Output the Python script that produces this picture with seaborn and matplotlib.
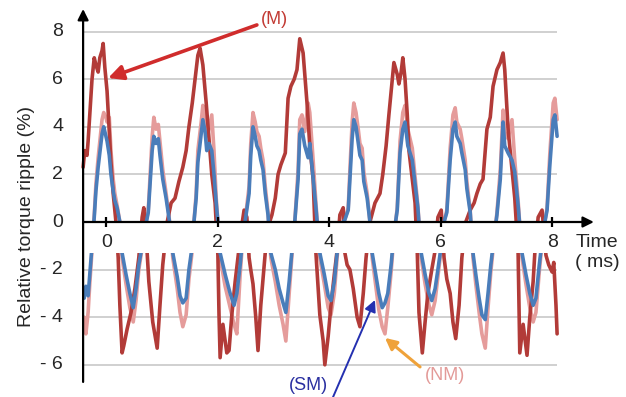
import matplotlib
matplotlib.use("Agg")
import matplotlib.pyplot as plt
import seaborn as sns
import pandas as pd

sns.set_theme(style="white")
plt.rcParams["font.family"] = ["Liberation Sans", "DejaVu Sans"]

# ---- data: relative torque ripple (%) versus time (ms) ----
# fast-ripple series (SM and NM share the same sampling instants)
t_fast = [-0.40, -0.37, -0.33, -0.30, -0.26, -0.22, -0.19, -0.15, -0.12, -0.08,
          -0.05, -0.01, 0.01, 0.05, 0.08, 0.12, 0.15, 0.19, 0.24, 0.28,
          0.35, 0.42, 0.48, 0.53, 0.58, 0.64, 0.69, 0.75, 0.78, 0.82,
          0.85, 0.89, 0.93, 0.96, 1.01, 1.07, 1.12, 1.16, 1.19, 1.27,
          1.32, 1.37, 1.43, 1.48, 1.54, 1.57, 1.61, 1.64, 1.70, 1.73,
          1.77, 1.80, 1.84, 1.89, 1.93, 1.97, 2.00, 2.04, 2.13, 2.22,
          2.29, 2.34, 2.40, 2.45, 2.50, 2.56, 2.59, 2.63, 2.67, 2.70,
          2.74, 2.77, 2.81, 2.85, 2.90, 2.95, 3.03, 3.10, 3.17, 3.22,
          3.28, 3.33, 3.38, 3.44, 3.47, 3.51, 3.56, 3.62, 3.65, 3.71,
          3.76, 3.83, 3.91, 3.98, 4.03, 4.09, 4.14, 4.19, 4.28, 4.34,
          4.37, 4.41, 4.44, 4.48, 4.52, 4.55, 4.59, 4.62, 4.68, 4.73,
          4.77, 4.84, 4.89, 4.95, 5.00, 5.05, 5.11, 5.16, 5.22, 5.27,
          5.32, 5.36, 5.41, 5.49, 5.54, 5.59, 5.65, 5.72, 5.79, 5.84,
          5.90, 5.95, 6.01, 6.06, 6.11, 6.17, 6.22, 6.26, 6.29, 6.35,
          6.38, 6.44, 6.47, 6.53, 6.58, 6.63, 6.69, 6.74, 6.80, 6.85,
          6.90, 6.96, 7.01, 7.07, 7.12, 7.15, 7.21, 7.28, 7.33, 7.39,
          7.46, 7.53, 7.60, 7.66, 7.71, 7.77, 7.82, 7.87, 7.91, 7.96,
          8.02, 8.05, 8.09]

sm_ripple = [-3.2, -2.7, -3.1, -2.2, -1.0, 0.2, 1.3, 2.3, 2.9, 3.7,
             4.0, 3.6, 3.4, 2.8, 2.0, 1.3, 0.9, 0.6, 0.0, -1.3,
             -2.2, -3.0, -3.6, -2.8, -1.8, -1.0, -0.3, 0.4, 1.5, 3.0,
             3.6, 3.3, 3.5, 2.8, 1.8, 1.0, 0.2, -0.5, -1.3, -2.3,
             -3.1, -3.4, -3.2, -2.0, -1.0, 0.0, 1.0, 2.5, 3.7, 4.3,
             3.8, 3.0, 3.3, 3.0, 2.0, 0.8, 0.0, -1.3, -2.2, -3.0,
             -3.5, -3.0, -1.8, -0.5, 0.2, 1.2, 2.8, 4.0, 3.6, 3.2,
             3.0, 2.6, 2.2, 1.2, 0.3, -1.3, -2.0, -2.8, -3.4, -3.8,
             -2.5, -1.2, 0.0, 1.8, 3.7, 3.9, 3.2, 2.7, 3.3, 1.8,
             0.6, -1.3, -2.2, -3.1, -3.3, -2.5, -1.3, -0.2, 0.1, 0.5,
             1.8, 3.5, 4.3, 4.0, 3.3, 2.8, 2.6, 1.7, 1.0, 0.0,
             -1.3, -2.3, -3.0, -3.6, -3.4, -3.0, -1.8, -0.5, 0.5, 2.9,
             3.9, 4.2, 3.2, 2.6, 1.6, 0.6, -1.3, -2.2, -3.0, -3.3,
             -2.8, -2.0, -1.0, 0.0, 0.4, 2.6, 3.9, 4.2, 3.6, 3.3,
             2.9, 2.2, 1.4, 0.4, -1.3, -2.2, -3.2, -3.9, -4.1, -3.0,
             -1.8, -0.6, 0.3, 1.8, 4.2, 3.2, 2.9, 2.6, 2.1, 0.7,
             -1.3, -2.2, -3.0, -3.5, -3.2, -1.8, -0.8, 0.0, 0.5, 2.4,
             4.3, 4.5, 3.6]

nm_ripple = [-4.0, -4.7, -3.8, -2.6, -1.2, 0.3, 1.6, 2.7, 3.4, 4.3,
             4.6, 4.4, 4.2, 4.4, 3.0, 1.8, 1.2, 0.7, 0.0, -1.5,
             -2.6, -3.6, -4.2, -3.3, -2.0, -1.1, -0.3, 0.5, 1.8, 3.6,
             4.4, 3.9, 4.1, 3.4, 2.2, 1.2, 0.3, -0.6, -1.5, -2.8,
             -3.8, -4.4, -3.9, -2.4, -1.2, 0.0, 1.2, 3.0, 4.2, 4.9,
             4.4, 3.6, 3.9, 4.5, 3.0, 1.0, 0.0, -1.5, -2.7, -3.6,
             -4.3, -4.7, -2.2, -0.6, 0.3, 1.5, 3.3, 4.6, 4.2, 3.8,
             3.6, 3.1, 2.6, 1.5, 0.4, -1.5, -2.5, -3.5, -4.3, -5.0,
             -3.0, -1.4, 0.0, 2.2, 4.3, 4.5, 3.8, 5.0, 4.6, 2.6,
             0.8, -1.5, -2.6, -3.6, -3.9, -3.0, -1.5, -0.2, 0.1, 0.6,
             2.2, 4.2, 5.0, 4.6, 3.9, 3.3, 3.1, 2.1, 1.2, 0.0,
             -1.5, -2.8, -3.7, -4.4, -4.7, -3.6, -2.1, -0.6, 0.6, 3.4,
             4.6, 4.9, 3.9, 3.1, 1.9, 0.7, -1.5, -2.6, -3.5, -3.9,
             -3.3, -2.3, -1.1, 0.0, 0.5, 3.1, 4.5, 4.8, 4.2, 3.9,
             3.5, 2.6, 1.7, 0.5, -1.5, -2.6, -3.8, -4.7, -5.3, -3.6,
             -2.1, -0.7, 0.4, 2.2, 4.7, 3.8, 3.5, 4.3, 2.6, 0.9,
             -1.5, -2.6, -3.6, -4.2, -3.8, -2.1, -0.9, 0.0, 0.6, 2.9,
             5.0, 5.2, 4.3]

# slower, larger ripple (M)
t_m = [-0.42, -0.39, -0.35, -0.33, -0.30, -0.26, -0.22, -0.19, -0.15, -0.12,
       -0.08, -0.06, -0.03, 0.01, 0.05, 0.08, 0.12, 0.17, 0.21, 0.24,
       0.28, 0.31, 0.37, 0.44, 0.51, 0.58, 0.64, 0.67, 0.71, 0.76,
       0.83, 0.91, 0.96, 1.01, 1.09, 1.16, 1.23, 1.30, 1.37, 1.43,
       1.48, 1.54, 1.57, 1.61, 1.64, 1.68, 1.73, 1.79, 1.84, 1.89,
       1.95, 2.00, 2.02, 2.04, 2.09, 2.16, 2.20, 2.25, 2.31, 2.36,
       2.42, 2.47, 2.52, 2.56, 2.59, 2.63, 2.68, 2.72, 2.77, 2.85,
       2.90, 2.97, 3.03, 3.08, 3.13, 3.21, 3.26, 3.31, 3.37, 3.42,
       3.47, 3.53, 3.60, 3.65, 3.71, 3.76, 3.83, 3.89, 3.92, 3.98,
       4.03, 4.09, 4.14, 4.19, 4.25, 4.28, 4.32, 4.37, 4.43, 4.50,
       4.55, 4.61, 4.66, 4.73, 4.82, 4.91, 4.96, 5.02, 5.07, 5.13,
       5.16, 5.22, 5.25, 5.29, 5.32, 5.36, 5.40, 5.43, 5.49, 5.54,
       5.58, 5.61, 5.67, 5.72, 5.77, 5.84, 5.90, 5.95, 6.01, 6.06,
       6.11, 6.17, 6.22, 6.27, 6.33, 6.38, 6.45, 6.53, 6.60, 6.65,
       6.71, 6.76, 6.83, 6.89, 6.94, 7.01, 7.07, 7.12, 7.15, 7.21,
       7.28, 7.33, 7.39, 7.42, 7.48, 7.55, 7.60, 7.66, 7.69, 7.75,
       7.82, 7.89, 7.94, 8.00, 8.03, 8.07, 8.09]

m_ripple = [2.3, 3.0, 2.8, 3.4, 4.5, 6.0, 6.9, 6.6, 6.3, 6.9,
            7.2, 7.5, 6.5, 5.5, 3.8, 2.5, 1.2, 0.0, -1.5, -3.5,
            -5.5, -5.2, -4.5, -3.8, -2.8, -1.5, 0.2, 0.6, -0.5, -2.5,
            -4.2, -5.3, -3.5, -1.8, 0.0, 0.8, 1.0, 1.7, 2.3, 3.0,
            4.0, 5.0, 5.6, 6.4, 7.0, 7.3, 6.6, 5.0, 3.5, 2.0,
            0.8, -1.4, -3.9, -5.7, -4.3, -5.5, -5.4, -3.9, -2.5, -1.5,
            -0.3, 0.5, 0.2, -1.5, -2.0, -2.6, -4.0, -5.4, -3.5, -1.3,
            -0.2, 0.3, 1.0, 2.0, 2.4, 2.9, 5.2, 5.7, 6.0, 6.4,
            7.7, 7.1, 5.0, 3.2, 1.8, -1.3, -3.9, -5.0, -6.0, -4.8,
            -3.5, -2.2, -1.2, 0.3, 0.6, -1.3, -1.8, -2.0, -2.8, -4.0,
            -4.4, -3.0, -1.5, 0.0, 0.8, 1.2, 2.0, 3.2, 4.5, 6.0,
            6.7, 6.2, 5.8, 6.3, 6.9, 6.0, 4.5, 3.0, 1.8, 0.8,
            -1.3, -3.8, -5.5, -4.2, -3.0, -2.0, -1.2, 0.2, 0.5, -1.5,
            -2.4, -3.0, -4.2, -4.9, -3.5, -1.5, 0.0, 0.5, 0.8, 1.2,
            1.6, 1.8, 3.9, 4.4, 5.7, 6.4, 6.7, 7.1, 6.4, 3.9,
            2.2, 1.0, -1.3, -5.5, -4.3, -5.6, -4.0, -2.5, -1.3, 0.2,
            0.5, -1.4, -1.8, -2.1, -1.7, -3.5, -4.7]

y_ticks = [8, 6, 4, 2, 0, -2, -4, -6]
y_tick_labels = ["8", "6", "4", "2", "0", "- 2", "- 4", "- 6"]
x_ticks = [0, 2, 4, 6, 8]
x_tick_labels = ["0", "2", "4", "6", "8"]
grid_levels = [8, 6, 4, 2, -2, -4, -6]

fast = pd.DataFrame({"time": t_fast, "SM": sm_ripple, "NM": nm_ripple})
slow = pd.DataFrame({"time": t_m, "M": m_ripple})

c_m = "#B23B38"
c_nm = "#E59C9B"
c_sm = "#4A7DBA"

fig = plt.figure(figsize=(6.26, 3.97), dpi=100)
ax = fig.add_axes([0, 0, 1, 1])
ax.set_xlim(-1.912, 9.327)
ax.set_ylim(-7.353, 9.328)

x_left, x_right = -0.42, 8.09

# horizontal grid
ax.hlines(grid_levels, x_left, x_right, color="#C4C4C4", lw=1.1, zorder=1)

# traces
sns.lineplot(data=fast, x="time", y="NM", color=c_nm, lw=2.6, estimator=None,
             sort=False, ax=ax, zorder=2)
sns.lineplot(data=slow, x="time", y="M", color=c_m, lw=2.6, estimator=None,
             sort=False, ax=ax, zorder=2.2)
sns.lineplot(data=fast, x="time", y="SM", color=c_sm, lw=2.6, estimator=None,
             sort=False, ax=ax, zorder=2.4)
ax.axis("off")

# white strip behind the time labels
ax.fill_between([x_left + 0.02, x_right + 0.1], -1.30, 0, color="white",
                lw=0, zorder=3)

# axes with arrow heads
ax.annotate("", xy=(x_left, 8.95), xytext=(x_left, -6.72),
            arrowprops=dict(arrowstyle="-|>", color="black", lw=1.6,
                            mutation_scale=16, shrinkA=0, shrinkB=0),
            zorder=5)
ax.annotate("", xy=(8.75, 0), xytext=(x_left, 0),
            arrowprops=dict(arrowstyle="-|>", color="black", lw=1.6,
                            mutation_scale=16, shrinkA=0, shrinkB=0),
            zorder=5)
ax.vlines(x_ticks, -0.2, 0.2, color="black", lw=1.6, zorder=5)

fs = 14
for xv, lab in zip(x_ticks, x_tick_labels):
    ax.text(xv, -0.88, lab, ha="center", va="center", fontsize=fs, zorder=6)
for yv, lab in zip(y_ticks, y_tick_labels):
    ax.text(-0.78, yv, lab, ha="right", va="center", fontsize=fs)

ax.text(-1.43, 0.25, "Relative torque ripple (%)", rotation=90,
        ha="center", va="center", fontsize=14)
ax.text(8.42, -0.88, "Time", ha="left", va="center", fontsize=fs)
ax.text(8.42, -1.70, "( ms)", ha="left", va="center", fontsize=fs)

# series call-outs
ax.text(3.01, 8.49, "(M)", color="#C23A33", ha="center", va="center", fontsize=13)
ax.annotate("", xy=(0.03, 6.05), xytext=(2.70, 8.28),
            arrowprops=dict(arrowstyle="-|>", color="#D02C2C", lw=2.6,
                            mutation_scale=22, shrinkA=0, shrinkB=0), zorder=6)

ax.text(3.63, -6.89, "(SM)", color="#2A2FA0", ha="center", va="center", fontsize=13)
ax.annotate("", xy=(4.82, -3.28), xytext=(4.05, -7.45),
            arrowprops=dict(arrowstyle="-|>", color="#2430B0", lw=1.4,
                            mutation_scale=17, shrinkA=0, shrinkB=0), zorder=6)

ax.text(6.08, -6.47, "(NM)", color="#E39A98", ha="center", va="center", fontsize=13)
ax.annotate("", xy=(5.00, -4.87), xytext=(5.63, -6.09),
            arrowprops=dict(arrowstyle="-|>", color="#EFA23A", lw=2.2,
                            mutation_scale=17, shrinkA=0, shrinkB=0), zorder=6)

fig.savefig("out.png", dpi=100)
